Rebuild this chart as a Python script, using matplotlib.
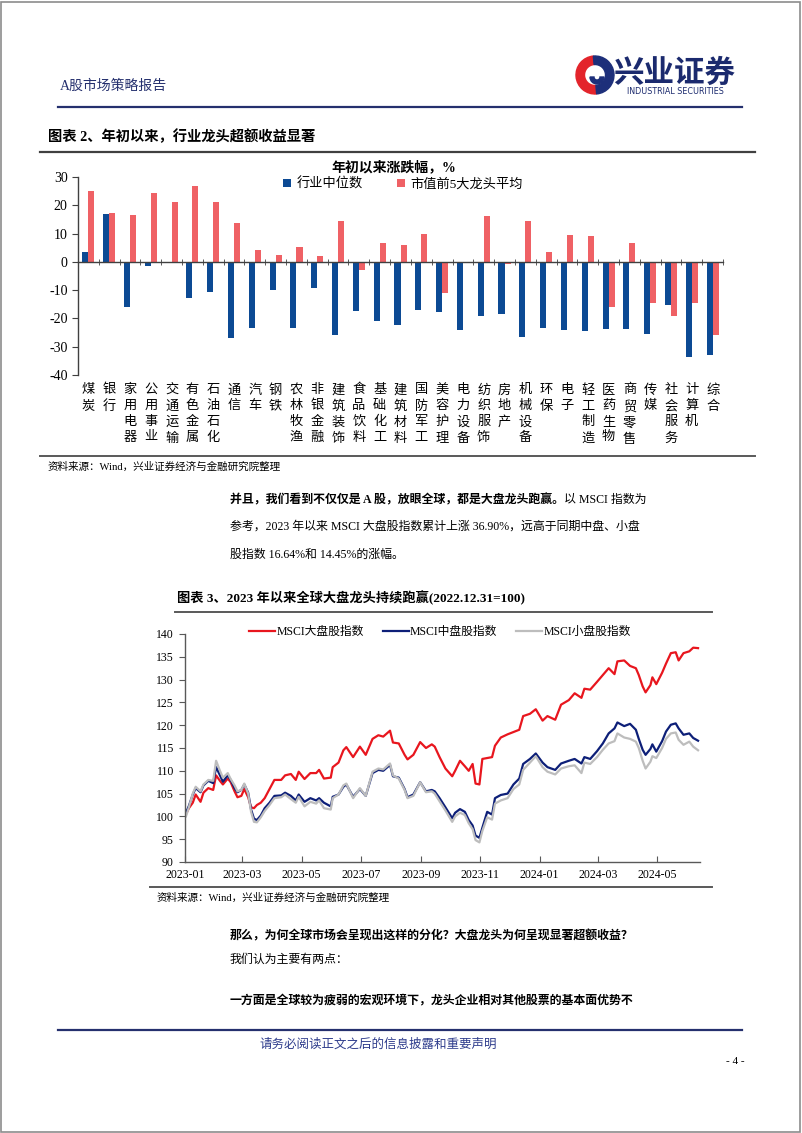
import numpy as np
import pandas as pd
import matplotlib
matplotlib.use('Agg')
import matplotlib.pyplot as plt
import matplotlib.dates as mdates
from matplotlib.lines import Line2D
from matplotlib.patches import Wedge, Rectangle

# 图表2：年初以来行业涨跌幅（%）
industries = ['煤炭', '银行', '家用电器', '公用事业', '交通运输', '有色金属', '石油石化', '通信', '汽车', '钢铁',
              '农林牧渔', '非银金融', '建筑装饰', '食品饮料', '基础化工', '建筑材料', '国防军工', '美容护理',
              '电力设备', '纺织服饰', '房地产', '机械设备', '环保', '电子', '轻工制造', '医药生物', '商贸零售',
              '传媒', '社会服务', '计算机', '综合']
median_chg = [3.4, 16.8, -15.8, -1.5, -0.5, -12.9, -10.5, -27.0, -23.5, -10.1,
              -23.3, -9.2, -25.9, -17.4, -20.8, -22.2, -17.1, -17.6,
              -24.0, -19.2, -18.4, -26.7, -23.5, -24.0, -24.5, -23.6, -23.6,
              -25.4, -15.3, -33.6, -32.8]
top5_chg = [25.0, 17.1, 16.5, 24.4, 21.2, 26.9, 21.2, 13.6, 4.3, 2.3,
            5.4, 2.0, 14.3, -3.0, 6.8, 6.1, 9.8, -11.0,
            0.0, 16.2, -0.9, 14.4, 3.6, 9.4, 9.0, -15.9, 6.6,
            -14.6, -19.2, -14.6, -25.9]

# 图表3：MSCI 指数（2022.12.31=100）
dates = ['2023-01-02', '2023-01-05', '2023-01-09', '2023-01-12', '2023-01-17', '2023-01-20', '2023-01-25',
         '2023-01-30', '2023-02-02', '2023-02-06', '2023-02-09', '2023-02-14', '2023-02-17', '2023-02-21',
         '2023-02-24', '2023-02-28', '2023-03-03', '2023-03-07', '2023-03-10', '2023-03-13', '2023-03-16',
         '2023-03-20', '2023-03-24', '2023-03-29', '2023-04-03', '2023-04-10', '2023-04-14', '2023-04-20',
         '2023-04-25', '2023-04-28', '2023-05-04', '2023-05-10', '2023-05-16', '2023-05-19', '2023-05-24',
         '2023-05-31', '2023-06-02', '2023-06-08', '2023-06-13', '2023-06-16', '2023-06-23', '2023-06-30',
         '2023-07-06', '2023-07-13', '2023-07-19', '2023-07-24', '2023-07-31', '2023-08-03', '2023-08-09',
         '2023-08-15', '2023-08-18', '2023-08-24', '2023-08-31', '2023-09-06', '2023-09-12', '2023-09-15',
         '2023-09-20', '2023-09-26', '2023-10-03', '2023-10-06', '2023-10-11', '2023-10-16', '2023-10-20',
         '2023-10-24', '2023-10-27', '2023-10-31', '2023-11-03', '2023-11-08', '2023-11-13', '2023-11-16',
         '2023-11-22', '2023-11-29', '2023-12-05', '2023-12-11', '2023-12-15', '2023-12-22', '2023-12-28',
         '2024-01-04', '2024-01-09', '2024-01-17', '2024-01-23', '2024-01-31', '2024-02-06', '2024-02-13',
         '2024-02-16', '2024-02-22', '2024-02-29', '2024-03-06', '2024-03-12', '2024-03-18', '2024-03-21',
         '2024-03-28', '2024-04-03', '2024-04-09', '2024-04-12', '2024-04-16', '2024-04-19', '2024-04-24',
         '2024-04-26', '2024-04-30', '2024-05-06', '2024-05-10', '2024-05-15', '2024-05-20', '2024-05-23',
         '2024-05-28', '2024-06-03', '2024-06-07', '2024-06-12']
msci_large = [100.5, 101.8, 103.0, 104.8, 103.2, 105.2, 106.2,
              105.8, 109.0, 107.8, 107.0, 108.3, 107.5, 105.5,
              104.2, 104.5, 106.0, 104.2, 102.0, 101.8, 102.5,
              103.0, 104.0, 106.0, 108.0, 108.0, 109.0, 109.3,
              108.0, 109.8, 108.2, 109.5, 109.5, 110.2, 108.3,
              108.5, 110.8, 111.8, 114.5, 115.2, 113.0, 115.3,
              113.5, 117.0, 117.8, 117.5, 118.8, 116.2, 116.0,
              113.5, 112.5, 113.5, 116.3, 115.0, 115.8, 115.3,
              113.0, 110.5, 108.8, 110.0, 112.2, 111.0, 110.0,
              111.5, 107.2, 107.0, 112.6, 112.8, 113.0, 115.5,
              117.3, 118.0, 118.5, 119.0, 122.0, 122.5, 123.5,
              121.0, 122.0, 121.2, 124.5, 125.5, 127.0, 126.0,
              128.0, 127.8, 129.5, 131.0, 132.5, 131.2, 134.0,
              134.2, 133.0, 132.5, 131.0, 128.5, 127.2, 128.8,
              130.5, 129.0, 131.5, 133.5, 135.8, 136.0, 134.2,
              135.8, 136.2, 137.0, 136.9]
msci_mid = [100.8, 102.3, 104.8, 106.2, 105.3, 106.8, 107.8,
            107.3, 110.8, 109.0, 107.6, 109.0, 108.0, 106.2,
            105.3, 105.8, 107.0, 105.2, 101.5, 99.5, 99.2,
            100.2, 101.8, 103.0, 104.5, 104.6, 105.2, 104.5,
            103.5, 104.8, 103.2, 104.0, 103.5, 104.0, 103.0,
            102.2, 104.3, 104.8, 106.5, 107.0, 104.3, 106.0,
            104.5, 109.5, 110.2, 110.0, 111.3, 108.8, 108.5,
            106.0, 104.2, 104.8, 107.5, 105.5, 105.8, 105.5,
            104.0, 102.0, 99.6, 100.8, 101.6, 101.0, 99.2,
            98.0, 95.8, 95.3, 97.5, 101.0, 100.4, 104.0,
            104.7, 105.0, 107.0, 108.3, 111.5, 112.6, 113.8,
            111.8, 110.8, 110.2, 111.6, 112.2, 112.6, 111.6,
            113.0, 112.6, 114.3, 116.0, 118.2, 119.3, 120.6,
            119.8, 120.3, 119.0, 117.0, 114.6, 113.5, 114.8,
            115.8, 114.2, 116.5, 118.6, 120.1, 120.4, 119.3,
            117.9, 118.2, 117.2, 116.6]
msci_small = [100.0, 102.0, 105.0, 106.5, 105.5, 107.0, 108.0,
              107.8, 112.2, 110.0, 108.5, 109.5, 108.2, 106.8,
              105.5, 105.8, 107.2, 105.0, 101.0, 98.8, 98.7,
              99.8, 101.2, 102.5, 104.0, 104.2, 104.8, 103.8,
              103.0, 104.3, 102.2, 103.2, 102.8, 103.5, 101.8,
              101.5, 104.0, 104.8, 106.8, 107.2, 104.0, 106.2,
              104.5, 109.8, 110.5, 110.3, 111.6, 109.0, 108.3,
              105.8, 104.0, 104.5, 107.5, 105.3, 105.5, 105.0,
              103.3, 101.3, 98.8, 100.0, 100.8, 100.3, 98.5,
              97.2, 94.8, 94.3, 96.8, 99.8, 99.3, 102.8,
              103.5, 104.0, 106.0, 107.0, 110.2, 111.8, 113.2,
              110.8, 109.8, 109.2, 110.5, 111.0, 111.2, 109.5,
              111.8, 111.5, 113.0, 114.6, 116.0, 116.5, 118.2,
              117.3, 117.0, 116.4, 115.0, 112.2, 110.5, 112.0,
              113.2, 112.8, 115.0, 117.0, 118.2, 118.4, 116.8,
              115.7, 116.4, 115.3, 114.5]

W, H = 802, 1133
FAM = ['Liberation Serif', 'Noto Sans CJK SC']
plt.rcParams['font.family'] = FAM
plt.rcParams['axes.unicode_minus'] = False

NAVY = '#25306E'
BAR_BLUE = '#0C4A94'
BAR_RED = '#EF6165'
BODY = 8.6


def fx(x):
    return x / W


def fy(y):
    return 1 - y / H


def hline(fig, x0, x1, y, color='#404040', lw=1.2):
    fig.add_artist(Line2D([fx(x0), fx(x1)], [fy(y), fy(y)], transform=fig.transFigure, color=color, lw=lw))


def txt(fig, x, y, s, **kw):
    kw.setdefault('va', 'center')
    return fig.text(fx(x), fy(y), s, **kw)


def mixed_line(fig, x, y, parts, size=BODY):
    # 同一行中粗体与常规文字拼接
    renderer = fig.canvas.get_renderer()
    cur = x
    for s, w in parts:
        t = txt(fig, cur, y, s, fontsize=size, weight=w, ha='left')
        cur += t.get_window_extent(renderer).width


fig = plt.figure(figsize=(W / 100, H / 100), dpi=100)
fig.patch.set_facecolor('white')
fig.add_artist(Rectangle((0.001, 0.001), 0.997, 0.997, transform=fig.transFigure,
                         fill=False, edgecolor='#8C8C8C', lw=1.2))

# 页眉
txt(fig, 60, 86, 'A股市场策略报告', fontsize=10, color=NAVY, ha='left')
cx, cy = 5.95, (H - 75) / 100
fig.add_artist(Wedge((cx, cy), 0.19, 95, 275, width=0.085, color='#E3242B', transform=fig.dpi_scale_trans))
fig.add_artist(Wedge((cx, cy), 0.19, -85, 95, width=0.085, color='#1D2F7A', transform=fig.dpi_scale_trans))
fig.add_artist(Wedge((cx + 0.02, cy - 0.02), 0.07, 180, 360, width=0.04, color='#1D2F7A',
                     transform=fig.dpi_scale_trans))
txt(fig, 613, 73, '兴业证券', fontsize=22, weight='bold', color='#1B2A6E', ha='left',
    family=['Noto Sans CJK SC'])
txt(fig, 675, 92, 'INDUSTRIAL SECURITIES', fontsize=5.8, color='#1B2A6E', ha='center',
    family=['DejaVu Sans'])
hline(fig, 58, 742, 107, color=NAVY, lw=1.6)

# 图表2
txt(fig, 48, 137, '图表 2、年初以来，行业龙头超额收益显著', fontsize=10.3, weight='bold', ha='left')
hline(fig, 40, 755, 152, color='#404040', lw=1.6)

ax1 = fig.add_axes([fx(78), fy(375), (723 - 78) / W, (375 - 177) / H])
x = np.arange(len(industries))
bw = 0.29
b1 = ax1.bar(x - bw / 2, median_chg, bw, color=BAR_BLUE, label='行业中位数', zorder=2)
b2 = ax1.bar(x + bw / 2, top5_chg, bw, color=BAR_RED, label='市值前5大龙头平均', zorder=2)
ax1.set_xlim(-0.5, len(industries) - 0.5)
ax1.set_ylim(-40, 30)
ax1.set_yticks(range(-40, 31, 10))
ax1.spines['top'].set_visible(False)
ax1.spines['right'].set_visible(False)
ax1.spines['bottom'].set_position(('data', 0))
for sp in ['left', 'bottom']:
    ax1.spines[sp].set_color('#404040')
    ax1.spines[sp].set_linewidth(1.0)
ax1.set_xticks(x)
ax1.set_xticklabels(['\n'.join(n) for n in industries], fontsize=9.5, linespacing=1.42)
ax1.set_xticks(np.arange(-0.5, len(industries), 1), minor=True)
ax1.tick_params(axis='x', which='major', length=0, pad=88)
ax1.tick_params(axis='x', which='minor', length=5, direction='inout', color='#404040')
ax1.tick_params(axis='y', length=4, direction='out', labelsize=10, color='#404040')
ax1.legend(handles=[b1, b2], ncol=2, frameon=False, fontsize=9.5, handlelength=0.6, handleheight=0.6,
           handletextpad=0.4, columnspacing=2.6, loc='center',
           bbox_to_anchor=(fx(403), fy(184)), bbox_transform=fig.transFigure)
txt(fig, 394, 167, '年初以来涨跌幅，%', fontsize=10, weight='bold', ha='center')

hline(fig, 40, 755, 456, color='#595959', lw=1.4)
txt(fig, 48, 467, '资料来源：Wind，兴业证券经济与金融研究院整理', fontsize=7.6, ha='left')

# 正文
mixed_line(fig, 230, 500, [('并且，我们看到不仅仅是 A 股，放眼全球，都是大盘龙头跑赢。', 'bold'),
                           ('以 MSCI 指数为', 'normal')])
txt(fig, 230, 527, '参考，2023 年以来 MSCI 大盘股指数累计上涨 36.90%，远高于同期中盘、小盘',
    fontsize=BODY, ha='left')
txt(fig, 230, 555, '股指数 16.64%和 14.45%的涨幅。', fontsize=BODY, ha='left')

# 图表3
txt(fig, 177, 598, '图表 3、2023 年以来全球大盘龙头持续跑赢(2022.12.31=100)', fontsize=9.5, weight='bold',
    ha='left')
hline(fig, 175, 712, 612, color='#595959', lw=1.4)

ax2 = fig.add_axes([fx(185), fy(862), (700 - 185) / W, (862 - 634) / H])
d = pd.to_datetime(dates)
ax2.plot(d, msci_large, color='#E8161E', lw=1.6, label='MSCI大盘股指数')
ax2.plot(d, msci_mid, color='#0D1F78', lw=1.6, label='MSCI中盘股指数')
ax2.plot(d, msci_small, color='#BDBDBD', lw=1.6, label='MSCI小盘股指数')
ax2.set_xlim(pd.Timestamp('2023-01-01'), pd.Timestamp('2024-06-14'))
ax2.set_ylim(90, 140)
ax2.set_yticks(range(90, 141, 5))
ax2.xaxis.set_major_locator(mdates.MonthLocator(bymonth=[1, 3, 5, 7, 9, 11]))
ax2.xaxis.set_major_formatter(mdates.DateFormatter('%Y-%m'))
ax2.spines['top'].set_visible(False)
ax2.spines['right'].set_visible(False)
for sp in ['left', 'bottom']:
    ax2.spines[sp].set_color('#595959')
    ax2.spines[sp].set_linewidth(1.0)
ax2.tick_params(axis='x', direction='in', length=4, labelsize=8.5, pad=5, color='#595959')
ax2.tick_params(axis='y', direction='out', length=4, labelsize=8.5, pad=4, color='#595959')
ax2.legend(ncol=3, frameon=False, fontsize=8.5, handlelength=2.2, handletextpad=0.1, columnspacing=1.6,
           loc='center', bbox_to_anchor=(fx(440), fy(632)), bbox_transform=fig.transFigure)

hline(fig, 150, 712, 887, color='#595959', lw=1.4)
txt(fig, 157, 898, '资料来源：Wind，兴业证券经济与金融研究院整理', fontsize=7.6, ha='left')

txt(fig, 230, 936, '那么，为何全球市场会呈现出这样的分化？大盘龙头为何呈现显著超额收益？', fontsize=BODY,
    weight='bold', ha='left')
txt(fig, 230, 960, '我们认为主要有两点：', fontsize=BODY, ha='left')
txt(fig, 230, 1000, '一方面是全球较为疲弱的宏观环境下，龙头企业相对其他股票的基本面优势不', fontsize=BODY,
    weight='bold', ha='left')

# 页脚
hline(fig, 58, 742, 1030, color=NAVY, lw=1.6)
txt(fig, 378, 1045, '请务必阅读正文之后的信息披露和重要声明', fontsize=9, color='#2E3C8C', ha='center')
txt(fig, 735, 1061, '- 4 -', fontsize=8, ha='center')

fig.savefig('out.png', dpi=100, facecolor='white')
